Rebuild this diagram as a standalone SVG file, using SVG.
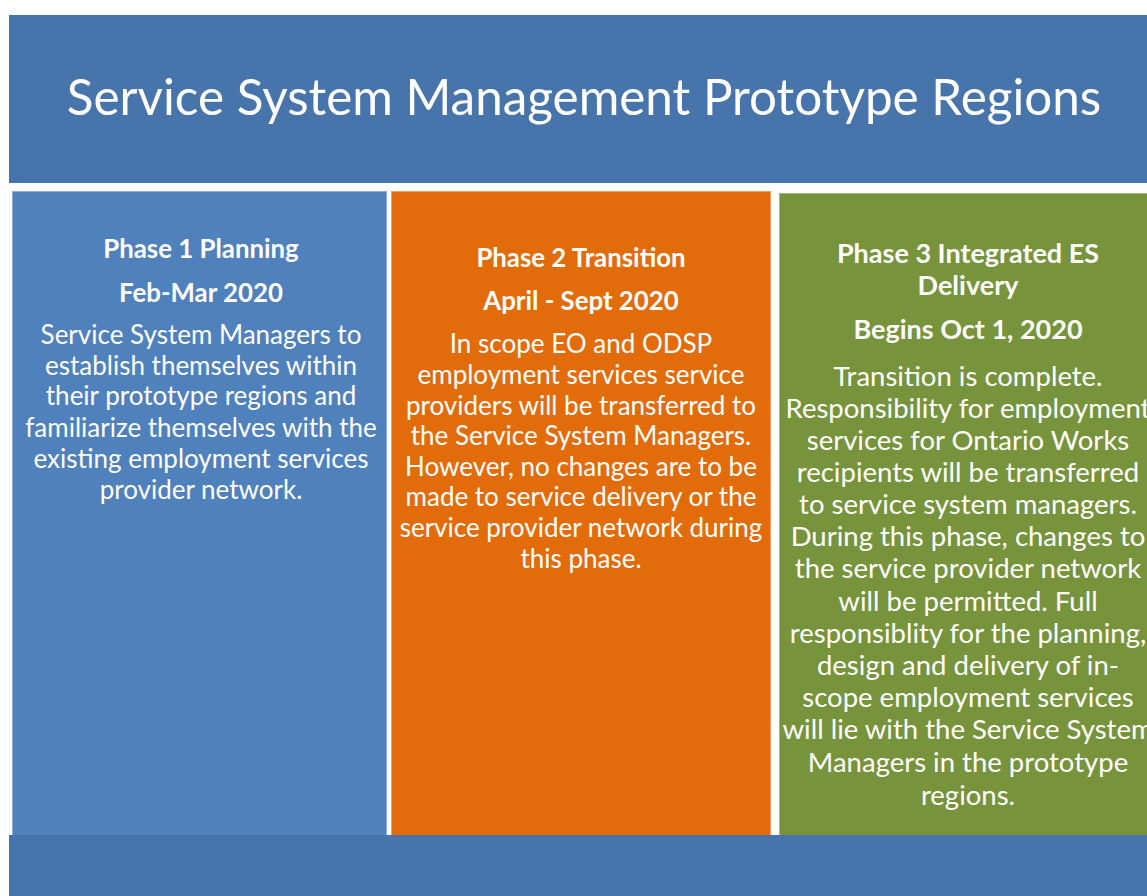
<svg xmlns="http://www.w3.org/2000/svg" width="1147" height="896" viewBox="0 0 1147 896">
  <style>
    text { font-family: Lato, "Open Sans", "Liberation Sans", sans-serif; fill: #ffffff; text-anchor: middle; }
    .title { font-size: 49.4px; }
    .head { font-size: 25.8px; font-weight: bold; }
    .body { font-size: 26px; }
    #phase3 .head { font-size: 27px; }
    #phase3 .body { font-size: 27.5px; }
    .band { fill: #4774AA; }
  </style>
  <rect width="1147" height="896" fill="#ffffff"/>

  <!-- title band -->
  <g id="title-band">
    <rect class="band" x="9" y="15" width="1138" height="168"/>
    <text class="title" x="584" y="115">Service System Management Prototype Regions</text>
  </g>

  <!-- phase 1 -->
  <g id="phase1">
    <rect x="12.5" y="191.5" width="374" height="645" fill="#4F81BD" stroke="#8eaedb" stroke-width="1"/>
    <text class="head" x="201" y="258">Phase 1 Planning</text>
    <text class="head" x="201" y="302">Feb-Mar 2020</text>
    <text class="body" x="201" y="344">Service System Managers to</text>
    <text class="body" x="201" y="375">establish themselves within</text>
    <text class="body" x="201" y="405">their prototype regions and</text>
    <text class="body" x="201" y="437">familiarize themselves with the</text>
    <text class="body" x="201" y="468">existing employment services</text>
    <text class="body" x="201" y="499">provider network.</text>
  </g>

  <!-- phase 2 -->
  <g id="phase2">
    <rect x="391.5" y="191.5" width="379" height="645" fill="#E36C0A" stroke="#eea068" stroke-width="1"/>
    <text class="head" x="581" y="267">Phase 2 Transition</text>
    <text class="head" x="581" y="310">April - Sept 2020</text>
    <text class="body" x="581" y="353">In scope EO and ODSP</text>
    <text class="body" x="581" y="384">employment services service</text>
    <text class="body" x="581" y="415">providers will be transferred to</text>
    <text class="body" x="581" y="445">the Service System Managers.</text>
    <text class="body" x="581" y="476">However, no changes are to be</text>
    <text class="body" x="581" y="506">made to service delivery or the</text>
    <text class="body" x="581" y="537">service provider network during</text>
    <text class="body" x="581" y="568">this phase.</text>
  </g>

  <!-- phase 3 -->
  <g id="phase3">
    <rect x="779.5" y="193.5" width="380" height="643" fill="#77933C" stroke="#a3b87a" stroke-width="1"/>
    <text class="head" x="968" y="263">Phase 3 Integrated ES</text>
    <text class="head" x="968" y="295">Delivery</text>
    <text class="head" x="968" y="339">Begins Oct 1, 2020</text>
    <text class="body" x="968" y="386">Transition is complete.</text>
    <text class="body" x="968" y="418">Responsibility for employment</text>
    <text class="body" x="968" y="450">services for Ontario Works</text>
    <text class="body" x="968" y="482">recipients will be transferred</text>
    <text class="body" x="968" y="514">to service system managers.</text>
    <text class="body" x="968" y="546">During this phase, changes to</text>
    <text class="body" x="968" y="578">the service provider network</text>
    <text class="body" x="968" y="611">will be permitted.  Full</text>
    <text class="body" x="968" y="643">responsiblity for the planning,</text>
    <text class="body" x="968" y="675">design and delivery of in-</text>
    <text class="body" x="968" y="707">scope employment services</text>
    <text class="body" x="968" y="739">will lie with the Service System</text>
    <text class="body" x="968" y="772">Managers in the prototype</text>
    <text class="body" x="968" y="805">regions.</text>
  </g>

  <!-- footer band -->
  <g id="footer-band">
    <rect class="band" x="9" y="835" width="1138" height="61"/>
  </g>
</svg>
